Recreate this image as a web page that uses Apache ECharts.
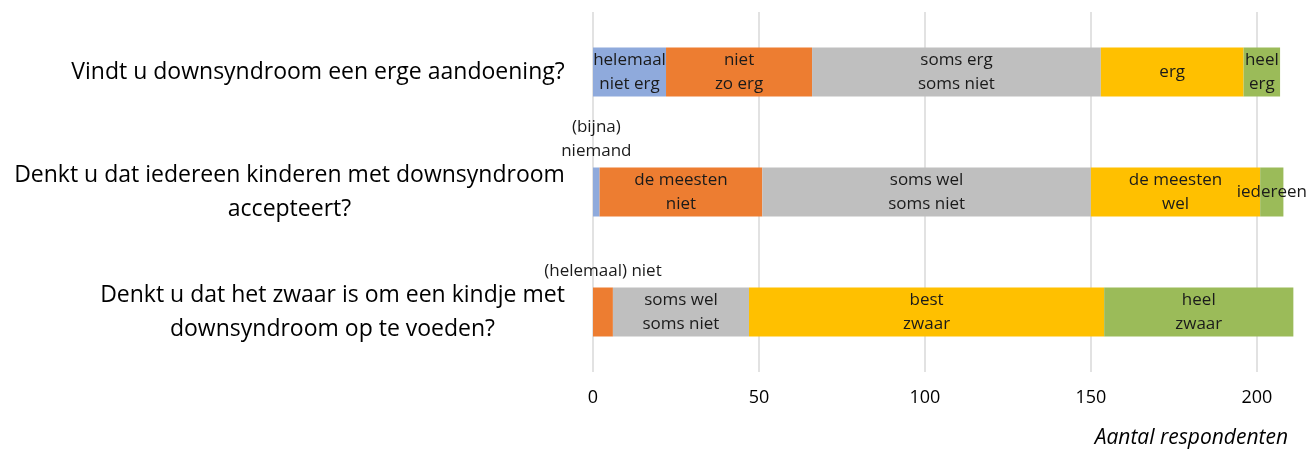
<!DOCTYPE html>
<html>
<head>
<meta charset="utf-8">
<script src="https://cdn.jsdelivr.net/npm/echarts@6/dist/echarts.min.js"></script>
<style>
  html, body { margin: 0; padding: 0; background: #fff; }
  #chart { width: 1314px; height: 450px; }
</style>
</head>
<body>
<div id="chart"></div>
<script>
// vragen (van boven naar beneden)
const questions = [
  'Vindt u downsyndroom een erge aandoening?',
  'Denkt u dat iedereen kinderen met downsyndroom\naccepteert?',
  'Denkt u dat het zwaar is om een kindje met\ndownsyndroom op te voeden?'
]

// aantallen per antwoordcategorie, per vraag
const answer1 = [22, 2, 0]
const answer2 = [44, 49, 6]
const answer3 = [87, 99, 41]
const answer4 = [43, 51, 107]
const answer5 = [11, 7, 57]

// labels in de balken
const labels1 = ['helemaal\nniet erg', '(bijna)\nniemand', '']
const labels2 = ['niet\nzo erg', 'de meesten\nniet', '(helemaal) niet']
const labels3 = ['soms erg\nsoms niet', 'soms wel\nsoms niet', 'soms wel\nsoms niet']
const labels4 = ['erg', 'de meesten\nwel', 'best\nzwaar']
const labels5 = ['heel\nerg', 'iedereen', 'heel\nzwaar']

const xTicks = [0, 50, 100, 150, 200]
const xMax = 213

const colors = ['#8FAADC', '#ED7D31', '#BFBFBF', '#FFC000', '#9BBB59']
const font = '"Open Sans", "Noto Sans", sans-serif'
const qFontSize = 23

// breedte meten zodat de regels gecentreerd staan binnen een rechts uitgelijnd blok
const ctx = document.createElement('canvas').getContext('2d')
ctx.font = qFontSize + 'px ' + font
const textW = s => Math.ceil(ctx.measureText(s).width)

const qRich = {}
const qFormatted = questions.map((q, qi) => {
  const lines = q.split('\n')
  const w = Math.max(...lines.map(textW))
  qRich['q' + qi] = { width: w, align: 'center', fontSize: qFontSize, fontFamily: font, color: '#000', lineHeight: 34 }
  return lines.map(l => '{q' + qi + '|' + l + '}').join('\n')
})

const chart = echarts.init(document.getElementById('chart'))

const allValues = [answer1, answer2, answer3, answer4, answer5]
const allLabels = [labels1, labels2, labels3, labels4, labels5]

// kleine segmenten krijgen het label boven de balk
const outside = { '0-1': true, '1-2': true }

const series = allValues.map((vals, si) => ({
  type: 'bar',
  stack: 'totaal',
  barWidth: 49,
  itemStyle: { color: colors[si] },
  data: vals.map((v, qi) => {
    const item = { value: v }
    const text = allLabels[si][qi]
    if (outside[si + '-' + qi]) {
      item.label = { show: true, position: 'top', distance: 4, formatter: text }
    } else {
      item.label = { show: true, position: 'inside', formatter: text }
    }
    return item
  }),
  label: {
    show: true,
    color: '#1a1a1a',
    fontSize: 17,
    fontFamily: font,
    lineHeight: 24
  }
}))

chart.setOption({
  animation: false,
  grid: { left: 593, right: 14, top: 12, bottom: 78, containLabel: false },
  xAxis: {
    type: 'value',
    min: 0,
    max: xMax,
    interval: 50,
    axisLine: { show: false },
    axisTick: { show: false },
    splitLine: { show: true, showMaxLine: false, lineStyle: { color: '#d9d9d9', width: 1.5 } },
    axisLabel: {
      color: '#000',
      fontSize: 18,
      fontFamily: font,
      margin: 17,
      showMaxLabel: false,
      formatter: v => (xTicks.includes(v) ? String(v) : '')
    },
    name: 'Aantal respondenten',
    nameLocation: 'end',
    nameGap: -12,
    nameTextStyle: {
      align: 'right',
      verticalAlign: 'top',
      fontStyle: 'italic',
      fontSize: 21,
      fontFamily: font,
      color: '#000',
      padding: [56, 0, 0, 0]
    }
  },
  yAxis: {
    type: 'category',
    inverse: true,
    data: questions,
    axisLine: { show: false },
    axisTick: { show: false },
    axisLabel: {
      margin: 28,
      align: 'right',
      formatter: (v, i) => qFormatted[i],
      rich: qRich
    }
  },
  series
})
</script>
</body>
</html>
